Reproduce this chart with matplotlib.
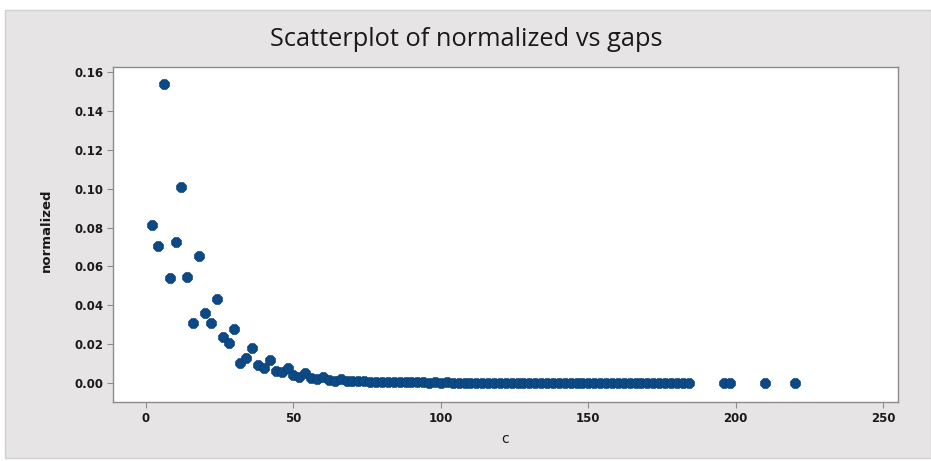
import matplotlib
matplotlib.use("Agg")
import matplotlib.pyplot as plt
from matplotlib.patches import Rectangle

# gap sizes (c) and the normalized frequency of each gap
GAPS = [
    2, 4, 6, 8, 10, 12, 14, 16, 18, 20, 22, 24, 26, 28, 30, 32, 34, 36, 38, 40,
    42, 44, 46, 48, 50, 52, 54, 56, 58, 60, 62, 64, 66, 68, 70, 72, 74, 76, 78, 80,
    82, 84, 86, 88, 90, 92, 94, 96, 98, 100, 102, 104, 106, 108, 110, 112, 114, 116, 118, 120,
    122, 124, 126, 128, 130, 132, 134, 136, 138, 140, 142, 144, 146, 148, 150, 152, 154, 156, 158, 160,
    162, 164, 166, 168, 170, 172, 174, 176, 178, 180, 182, 184, 196, 198, 210, 220,
]
NORMALIZED = [
    0.0813, 0.0706, 0.1538, 0.0539, 0.0724, 0.1007, 0.0547, 0.0307, 0.0653, 0.0358,
    0.0307, 0.0430, 0.0238, 0.0207, 0.0279, 0.0101, 0.0127, 0.0178, 0.0093, 0.0075,
    0.0118, 0.0063, 0.0058, 0.0075, 0.0041, 0.0032, 0.0053, 0.0024, 0.0019, 0.0032,
    0.0015, 0.0009, 0.0019, 0.0010, 0.0012, 0.0008, 0.0010, 0.0006, 0.0007, 0.0005,
    0.0006, 0.0004, 0.0005, 0.0003, 0.0004, 0.0003, 0.0004, 0.0002, 0.0003, 0.0002,
    0.0003, 0.0002, 0.0002, 0.0001, 0.0002, 0.0002, 0.0001, 0.0002, 0.0001, 0.0001,
    0.0002, 0.0001, 0.0001, 0.0001, 0.0001, 0.0001, 0.0001, 0.0000, 0.0001, 0.0001,
    0.0000, 0.0001, 0.0001, 0.0000, 0.0001, 0.0000, 0.0001, 0.0000, 0.0000, 0.0001,
    0.0000, 0.0000, 0.0001, 0.0000, 0.0000, 0.0000, 0.0001, 0.0000, 0.0000, 0.0000,
    0.0000, 0.0000, 0.0000, 0.0000, 0.0000, 0.0000,
]
X_TICKS = [0, 50, 100, 150, 200, 250]
Y_TICKS = [0.00, 0.02, 0.04, 0.06, 0.08, 0.10, 0.12, 0.14, 0.16]

W, H = 931, 461
fig = plt.figure(figsize=(W / 100, H / 100), dpi=100)
fig.patch.set_facecolor("white")

# light grey panel behind the whole graph
fig.patches.append(Rectangle((5 / W, 3 / H), 1 - 5 / W, (H - 13) / H,
                             transform=fig.transFigure, facecolor="#e6e4e4",
                             edgecolor="#cfcfcf", linewidth=1, zorder=-5))

ax = fig.add_axes([113 / W, 1 - 402 / H, 785 / W, 335 / H])
ax.set_zorder(2)
ax.set_facecolor("white")
ax.scatter(GAPS, NORMALIZED, s=56, marker="8", color="#0c4a87",
           edgecolors="#0a3f75", linewidths=0.6, zorder=3)

ax.set_xlim(-11.2, 255)
ax.set_ylim(-0.0098, 0.1626)
ax.set_xticks(X_TICKS)
ax.set_yticks(Y_TICKS)
ax.set_yticklabels([f"{v:.2f}" for v in Y_TICKS])

for side in ax.spines.values():
    side.set_color("#8c8c8c")
    side.set_linewidth(1)
ax.tick_params(direction="out", length=4, width=0.8, color="#8c8c8c",
               labelsize=8.5, labelcolor="#1a1a1a", pad=3)
for lab in ax.get_xticklabels() + ax.get_yticklabels():
    lab.set_fontweight("bold")

ax.set_xlabel("c", fontsize=10, color="#1a1a1a")
ax.xaxis.set_label_coords(0.5, -0.09)
ax.set_ylabel("normalized", fontsize=9.5, fontweight="bold", color="#1a1a1a")
ax.yaxis.set_label_coords(-0.076, 0.513)

fig.text(466 / W, 1 - 40 / H, "Scatterplot of normalized vs gaps",
         ha="center", va="center", fontsize=18.3, family="Open Sans",
         color="#1a1a1a", zorder=3)

fig.savefig("out.png", dpi=100)
